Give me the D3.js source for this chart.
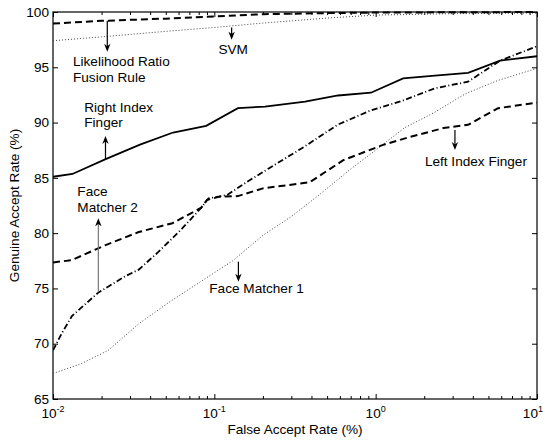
<!DOCTYPE html>
<html>
<head>
<meta charset="utf-8">
<script src="https://cdn.jsdelivr.net/npm/d3@7"></script>
<style>
  body { margin: 0; background: #fff; }
  svg { display: block; }
  text { font-family: "Liberation Sans", Arial, Helvetica, sans-serif; fill: #000; }
</style>
</head>
<body>
<svg id="chart" width="545" height="442"></svg>
<script>
// ROC curves: false accept rate (%) vs genuine accept rate (%)
const rightIndexFAR = [0.01, 0.0132, 0.0212, 0.0346, 0.0555, 0.089, 0.14, 0.206, 0.365, 0.585, 0.935, 1.48, 2.33, 3.74, 5.9, 10];
const rightIndexGAR = [85.1, 85.35, 86.7, 88.0, 89.1, 89.7, 91.3, 91.45, 91.9, 92.45, 92.7, 94.0, 94.25, 94.5, 95.6, 96.0];

const leftIndexFAR = [0.01, 0.013, 0.021, 0.034, 0.055, 0.083, 0.09, 0.108, 0.14, 0.2, 0.39, 0.63, 1.12, 1.63, 2.63, 3.74, 5.74, 10];
const leftIndexGAR = [77.35, 77.55, 78.9, 80.1, 80.9, 82.3, 83.0, 83.3, 83.35, 84.05, 84.6, 86.6, 88.0, 88.7, 89.5, 89.8, 91.3, 91.8];

const face2FAR = [0.01, 0.0113, 0.0131, 0.019, 0.028, 0.034, 0.045, 0.063, 0.083, 0.092, 0.12, 0.16, 0.22, 0.36, 0.58, 0.93, 1.48, 2.33, 3.74, 5.9, 10];
const face2GAR = [69.4, 70.9, 72.5, 74.6, 76.1, 76.7, 78.3, 80.4, 82.3, 83.15, 83.45, 84.65, 85.9, 87.8, 89.8, 91.1, 92.0, 93.1, 93.7, 95.6, 96.9];

const face1FAR = [0.01, 0.015, 0.022, 0.034, 0.053, 0.082, 0.13, 0.2, 0.3, 0.45, 0.7, 1.0, 1.5, 2.3, 3.6, 5.7, 10];
const face1GAR = [67.3, 68.2, 69.4, 71.8, 73.8, 75.6, 77.5, 79.8, 81.5, 83.5, 85.8, 87.5, 89.5, 90.9, 92.6, 93.8, 94.9];

const svmFAR = [0.01, 0.02, 0.05, 0.1, 0.2, 0.5, 1, 3, 10];
const svmGAR = [97.4, 97.75, 98.25, 98.6, 99.0, 99.45, 99.72, 99.85, 99.9];

const lrFAR = [0.01, 0.02, 0.05, 0.1, 0.2, 0.5, 1, 10];
const lrGAR = [98.95, 99.2, 99.4, 99.6, 99.8, 99.9, 99.95, 100];

// Axis ticks
const xMajorTicks = [0.01, 0.1, 1, 10];
const xTickExponents = ["-2", "-1", "0", "1"];
const yTicks = [65, 70, 75, 80, 85, 90, 95, 100];

// Annotations: label lines, anchor (FAR, GAR) and arrow from curve (tail) to tip
const labels = [
  { lines: ["Likelihood Ratio", "Fusion Rule"], far: 0.0133, gar: 95.12 },
  { lines: ["SVM"], far: 0.106, gar: 96.17 },
  { lines: ["Right Index", "Finger"], far: 0.01563, gar: 90.98 },
  { lines: ["Face", "Matcher 2"], far: 0.01416, gar: 83.36 },
  { lines: ["Face Matcher 1"], far: 0.0931, gar: 74.61 },
  { lines: ["Left Index Finger"], far: 2.02, gar: 86.07 }
];
const arrows = [
  { far: 0.0217, from: 99.2, to: 96.4, color: "#000" },
  { far: 0.128, from: 98.6, to: 97.5, color: "#000" },
  { far: 0.02115, from: 86.68, to: 88.79, color: "#000" },
  { far: 0.0191, from: 74.7, to: 81.34, color: "#777" },
  { far: 0.141, from: 77.42, to: 75.61, color: "#000" },
  { far: 3.1, from: 89.33, to: 87.52, color: "#000" }
];

const svg = d3.select("#chart");
const W = 545;
const plotLeft = 53, plotRight = 537, plotTop = 12, plotBottom = 399;

const x = d3.scaleLog().domain([0.01, 10]).range([plotLeft, plotRight]);
const y = d3.scaleLinear().domain([65, 100]).range([plotBottom, plotTop]);

const minorTicks = [];
[0.01, 0.1, 1].forEach(d => { for (let k = 2; k <= 9; k++) minorTicks.push(d * k); });

// Frame
svg.append("rect")
  .attr("x", plotLeft).attr("y", plotTop)
  .attr("width", plotRight - plotLeft).attr("height", plotBottom - plotTop)
  .attr("fill", "none").attr("stroke", "#000").attr("stroke-width", 1.2);

function styleAxis(g) {
  g.select(".domain").remove();
  g.selectAll(".tick line").attr("stroke", "#000").attr("stroke-width", 1);
  g.selectAll(".tick text").remove();
}

// Inward ticks on all four sides
svg.append("g").attr("transform", `translate(0,${plotBottom})`)
  .call(d3.axisBottom(x).tickValues(xMajorTicks).tickSize(-5)).call(styleAxis);
svg.append("g").attr("transform", `translate(0,${plotBottom})`)
  .call(d3.axisBottom(x).tickValues(minorTicks).tickSize(-3)).call(styleAxis);
svg.append("g").attr("transform", `translate(0,${plotTop})`)
  .call(d3.axisTop(x).tickValues(xMajorTicks).tickSize(-5)).call(styleAxis);
svg.append("g").attr("transform", `translate(0,${plotTop})`)
  .call(d3.axisTop(x).tickValues(minorTicks).tickSize(-3)).call(styleAxis);
svg.append("g").attr("transform", `translate(${plotLeft},0)`)
  .call(d3.axisLeft(y).tickValues(yTicks).tickSize(-5)).call(styleAxis);
svg.append("g").attr("transform", `translate(${plotRight},0)`)
  .call(d3.axisRight(y).tickValues(yTicks).tickSize(-5)).call(styleAxis);

// Tick labels
const fs = 13.6;
svg.append("g").selectAll("text").data(yTicks).join("text")
  .attr("x", plotLeft - 4).attr("y", d => y(d))
  .attr("dy", "0.35em").attr("text-anchor", "end")
  .attr("font-size", fs).text(d => d);

const xl = svg.append("g").selectAll("text").data(xMajorTicks).join("text")
  .attr("y", 418)
  .attr("text-anchor", "start").attr("font-size", fs);
xl.append("tspan").text("10");
xl.append("tspan").attr("dy", -6).attr("font-size", 9).text((d, i) => xTickExponents[i]);
// centre each power-of-ten label on its tick, keeping it inside the canvas
xl.each(function (d) {
  const w = this.getComputedTextLength();
  const cx = Math.min(x(d) - w / 2, W - 2 - w);
  d3.select(this).attr("x", cx);
});

// Axis titles
svg.append("text").attr("x", (plotLeft + plotRight) / 2).attr("y", 434)
  .attr("text-anchor", "middle").attr("font-size", fs).text("False Accept Rate (%)");
svg.append("text")
  .attr("transform", `translate(19,${(plotTop + plotBottom) / 2}) rotate(-90)`)
  .attr("text-anchor", "middle").attr("font-size", fs).text("Genuine Accept Rate (%)");

// Curves
const line = d3.line().x(d => x(d[0])).y(d => y(d[1]));
const zipSeries = (f, g) => f.map((v, i) => [v, g[i]]);

const series = [
  { f: face1FAR, g: face1GAR, stroke: "#444", width: 1, dash: "1,2" },
  { f: svmFAR, g: svmGAR, stroke: "#444", width: 1, dash: "1,2" },
  { f: leftIndexFAR, g: leftIndexGAR, stroke: "#000", width: 2, dash: "7,4" },
  { f: lrFAR, g: lrGAR, stroke: "#000", width: 2, dash: "7,4" },
  { f: face2FAR, g: face2GAR, stroke: "#000", width: 1.8, dash: "6,2.5,1,2.5" },
  { f: rightIndexFAR, g: rightIndexGAR, stroke: "#000", width: 1.8, dash: null }
];

svg.append("clipPath").attr("id", "plotclip")
  .append("rect").attr("x", plotLeft).attr("y", plotTop - 2)
  .attr("width", plotRight - plotLeft).attr("height", plotBottom - plotTop + 2);

svg.append("g").attr("clip-path", "url(#plotclip)")
  .selectAll("path").data(series).join("path")
  .attr("d", s => line(zipSeries(s.f, s.g)))
  .attr("fill", "none")
  .attr("stroke", s => s.stroke)
  .attr("stroke-width", s => s.width)
  .attr("stroke-dasharray", s => s.dash);

// Annotation arrows
const ag = svg.append("g");
arrows.forEach(a => {
  const ax = x(a.far), y0 = y(a.from), y1 = y(a.to);
  const dir = y1 > y0 ? 1 : -1;
  const headLen = 8, headHalf = 3.2;
  ag.append("line")
    .attr("x1", ax).attr("x2", ax)
    .attr("y1", y0).attr("y2", y1 - dir * headLen * 0.6)
    .attr("stroke", a.color).attr("stroke-width", 1.2);
  ag.append("path")
    .attr("d", `M${ax},${y1} L${ax - headHalf},${y1 - dir * headLen} L${ax},${y1 - dir * headLen * 0.7} L${ax + headHalf},${y1 - dir * headLen} Z`)
    .attr("fill", "#000");
});

// Annotation labels
labels.forEach(l => {
  const t = svg.append("text")
    .attr("x", x(l.far)).attr("y", y(l.gar))
    .attr("font-size", fs);
  l.lines.forEach((s, i) => {
    t.append("tspan").attr("x", x(l.far)).attr("dy", i === 0 ? 0 : 15.7).text(s);
  });
});
</script>
</body>
</html>
